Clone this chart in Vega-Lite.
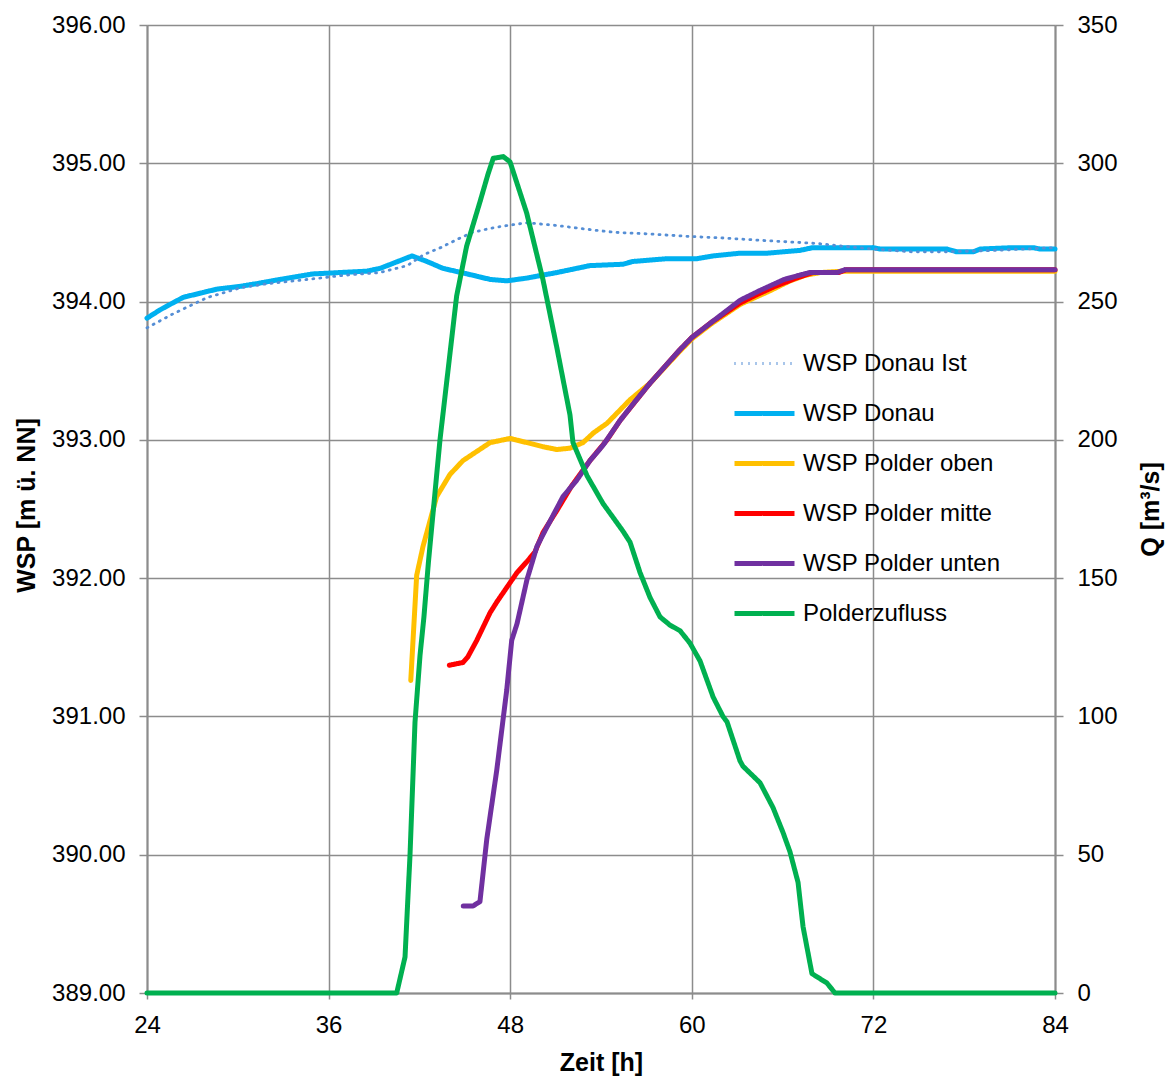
{
  "$schema": "https://vega.github.io/schema/vega-lite/v6.json",
  "width": 908,
  "height": 968,
  "autosize": {"type": "none"},
  "padding": {"left": 147, "top": 25, "right": 116, "bottom": 84},
  "background": "white",
  "config": {
    "font": "Liberation Sans",
    "view": {"stroke": null},
    "axis": {
      "gridColor": "#8c8c8c", "gridWidth": 1.5, "gridOpacity": 1,
      "domainColor": "#8c8c8c", "domainWidth": 2,
      "tickColor": "#8c8c8c", "tickWidth": 1.5,
      "labelFont": "Liberation Sans", "labelFontSize": 24, "labelColor": "#000000", "labelFlush": false,
      "titleFont": "Liberation Sans", "titleFontSize": 25, "titleFontWeight": "bold", "titleColor": "#000000"
    },
    "legend": {"labelLimit": 500}
  },
  "datasets": {
    "wsp": [
      {"s": "WSP Donau", "t": 24, "v": 393.88},
      {"s": "WSP Donau", "t": 24.86, "v": 393.94},
      {"s": "WSP Donau", "t": 26.38, "v": 394.03},
      {"s": "WSP Donau", "t": 27.5, "v": 394.06},
      {"s": "WSP Donau", "t": 28.63, "v": 394.09},
      {"s": "WSP Donau", "t": 30.15, "v": 394.11},
      {"s": "WSP Donau", "t": 31.27, "v": 394.13},
      {"s": "WSP Donau", "t": 32.79, "v": 394.16},
      {"s": "WSP Donau", "t": 34.97, "v": 394.2},
      {"s": "WSP Donau", "t": 36.75, "v": 394.21},
      {"s": "WSP Donau", "t": 38.54, "v": 394.22},
      {"s": "WSP Donau", "t": 39.4, "v": 394.24},
      {"s": "WSP Donau", "t": 41.51, "v": 394.33},
      {"s": "WSP Donau", "t": 42.5, "v": 394.29},
      {"s": "WSP Donau", "t": 43.56, "v": 394.24},
      {"s": "WSP Donau", "t": 45.15, "v": 394.2},
      {"s": "WSP Donau", "t": 46.67, "v": 394.16},
      {"s": "WSP Donau", "t": 47.79, "v": 394.15},
      {"s": "WSP Donau", "t": 49.11, "v": 394.17},
      {"s": "WSP Donau", "t": 51.09, "v": 394.21},
      {"s": "WSP Donau", "t": 53.27, "v": 394.26},
      {"s": "WSP Donau", "t": 55.45, "v": 394.27},
      {"s": "WSP Donau", "t": 56.1, "v": 394.29},
      {"s": "WSP Donau", "t": 58.36, "v": 394.31},
      {"s": "WSP Donau", "t": 60.34, "v": 394.31},
      {"s": "WSP Donau", "t": 61.4, "v": 394.33},
      {"s": "WSP Donau", "t": 63.2, "v": 394.35},
      {"s": "WSP Donau", "t": 64.97, "v": 394.35},
      {"s": "WSP Donau", "t": 67.15, "v": 394.37},
      {"s": "WSP Donau", "t": 68.0, "v": 394.39},
      {"s": "WSP Donau", "t": 71.97, "v": 394.39},
      {"s": "WSP Donau", "t": 72.44, "v": 394.38},
      {"s": "WSP Donau", "t": 76.86, "v": 394.38},
      {"s": "WSP Donau", "t": 77.5, "v": 394.36},
      {"s": "WSP Donau", "t": 78.6, "v": 394.36},
      {"s": "WSP Donau", "t": 79.05, "v": 394.38},
      {"s": "WSP Donau", "t": 81.23, "v": 394.39},
      {"s": "WSP Donau", "t": 82.55, "v": 394.39},
      {"s": "WSP Donau", "t": 83.0, "v": 394.38},
      {"s": "WSP Donau", "t": 84, "v": 394.38},

      {"s": "WSP Donau Ist", "t": 24, "v": 393.81},
      {"s": "WSP Donau Ist", "t": 25.7, "v": 393.91},
      {"s": "WSP Donau Ist", "t": 28, "v": 394.03},
      {"s": "WSP Donau Ist", "t": 30.2, "v": 394.1},
      {"s": "WSP Donau Ist", "t": 32, "v": 394.13},
      {"s": "WSP Donau Ist", "t": 34.6, "v": 394.16},
      {"s": "WSP Donau Ist", "t": 37, "v": 394.19},
      {"s": "WSP Donau Ist", "t": 39.4, "v": 394.21},
      {"s": "WSP Donau Ist", "t": 41.2, "v": 394.26},
      {"s": "WSP Donau Ist", "t": 42.3, "v": 394.34},
      {"s": "WSP Donau Ist", "t": 43.4, "v": 394.39},
      {"s": "WSP Donau Ist", "t": 44.5, "v": 394.45},
      {"s": "WSP Donau Ist", "t": 45.5, "v": 394.5},
      {"s": "WSP Donau Ist", "t": 46.7, "v": 394.53},
      {"s": "WSP Donau Ist", "t": 47.8, "v": 394.55},
      {"s": "WSP Donau Ist", "t": 49.1, "v": 394.57},
      {"s": "WSP Donau Ist", "t": 51.1, "v": 394.55},
      {"s": "WSP Donau Ist", "t": 53.3, "v": 394.52},
      {"s": "WSP Donau Ist", "t": 55, "v": 394.5},
      {"s": "WSP Donau Ist", "t": 57, "v": 394.49},
      {"s": "WSP Donau Ist", "t": 60, "v": 394.47},
      {"s": "WSP Donau Ist", "t": 62, "v": 394.46},
      {"s": "WSP Donau Ist", "t": 65, "v": 394.44},
      {"s": "WSP Donau Ist", "t": 68.3, "v": 394.42},
      {"s": "WSP Donau Ist", "t": 70, "v": 394.4},
      {"s": "WSP Donau Ist", "t": 72, "v": 394.38},
      {"s": "WSP Donau Ist", "t": 74.5, "v": 394.36},
      {"s": "WSP Donau Ist", "t": 77, "v": 394.36},
      {"s": "WSP Donau Ist", "t": 80, "v": 394.37},
      {"s": "WSP Donau Ist", "t": 82, "v": 394.38},
      {"s": "WSP Donau Ist", "t": 84, "v": 394.39},

      {"s": "WSP Polder oben", "t": 41.43, "v": 391.26},
      {"s": "WSP Polder oben", "t": 41.82, "v": 392.02},
      {"s": "WSP Polder oben", "t": 42.24, "v": 392.23},
      {"s": "WSP Polder oben", "t": 43.14, "v": 392.59},
      {"s": "WSP Polder oben", "t": 44.02, "v": 392.75},
      {"s": "WSP Polder oben", "t": 44.88, "v": 392.85},
      {"s": "WSP Polder oben", "t": 46.67, "v": 392.98},
      {"s": "WSP Polder oben", "t": 47.99, "v": 393.01},
      {"s": "WSP Polder oben", "t": 49.11, "v": 392.98},
      {"s": "WSP Polder oben", "t": 50.17, "v": 392.95},
      {"s": "WSP Polder oben", "t": 51.09, "v": 392.93},
      {"s": "WSP Polder oben", "t": 51.95, "v": 392.94},
      {"s": "WSP Polder oben", "t": 52.81, "v": 392.98},
      {"s": "WSP Polder oben", "t": 53.5, "v": 393.05},
      {"s": "WSP Polder oben", "t": 54.4, "v": 393.12},
      {"s": "WSP Polder oben", "t": 55.92, "v": 393.29},
      {"s": "WSP Polder oben", "t": 57.24, "v": 393.41},
      {"s": "WSP Polder oben", "t": 59.2, "v": 393.64},
      {"s": "WSP Polder oben", "t": 60, "v": 393.73},
      {"s": "WSP Polder oben", "t": 61.3, "v": 393.84},
      {"s": "WSP Polder oben", "t": 63.2, "v": 393.98},
      {"s": "WSP Polder oben", "t": 64, "v": 394.02},
      {"s": "WSP Polder oben", "t": 65.2, "v": 394.08},
      {"s": "WSP Polder oben", "t": 66.5, "v": 394.15},
      {"s": "WSP Polder oben", "t": 67.5, "v": 394.19},
      {"s": "WSP Polder oben", "t": 68.5, "v": 394.21},
      {"s": "WSP Polder oben", "t": 70, "v": 394.22},
      {"s": "WSP Polder oben", "t": 84, "v": 394.22},

      {"s": "WSP Polder mitte", "t": 43.98, "v": 391.37},
      {"s": "WSP Polder mitte", "t": 44.88, "v": 391.39},
      {"s": "WSP Polder mitte", "t": 45.2, "v": 391.43},
      {"s": "WSP Polder mitte", "t": 45.79, "v": 391.55},
      {"s": "WSP Polder mitte", "t": 46.67, "v": 391.75},
      {"s": "WSP Polder mitte", "t": 47.13, "v": 391.83},
      {"s": "WSP Polder mitte", "t": 48.45, "v": 392.04},
      {"s": "WSP Polder mitte", "t": 49.11, "v": 392.12},
      {"s": "WSP Polder mitte", "t": 49.64, "v": 392.19},
      {"s": "WSP Polder mitte", "t": 50.17, "v": 392.33},
      {"s": "WSP Polder mitte", "t": 51.09, "v": 392.49},
      {"s": "WSP Polder mitte", "t": 52.08, "v": 392.67},
      {"s": "WSP Polder mitte", "t": 53.27, "v": 392.85},
      {"s": "WSP Polder mitte", "t": 54.4, "v": 393.0},
      {"s": "WSP Polder mitte", "t": 55.26, "v": 393.14},
      {"s": "WSP Polder mitte", "t": 57.24, "v": 393.41},
      {"s": "WSP Polder mitte", "t": 59.2, "v": 393.65},
      {"s": "WSP Polder mitte", "t": 60, "v": 393.74},
      {"s": "WSP Polder mitte", "t": 61.3, "v": 393.85},
      {"s": "WSP Polder mitte", "t": 63.2, "v": 393.99},
      {"s": "WSP Polder mitte", "t": 64.3, "v": 394.05},
      {"s": "WSP Polder mitte", "t": 65.5, "v": 394.11},
      {"s": "WSP Polder mitte", "t": 66.9, "v": 394.17},
      {"s": "WSP Polder mitte", "t": 68.0, "v": 394.21},
      {"s": "WSP Polder mitte", "t": 69.7, "v": 394.21},
      {"s": "WSP Polder mitte", "t": 70.2, "v": 394.23},
      {"s": "WSP Polder mitte", "t": 84, "v": 394.23},

      {"s": "WSP Polder unten", "t": 44.9, "v": 389.63},
      {"s": "WSP Polder unten", "t": 45.55, "v": 389.63},
      {"s": "WSP Polder unten", "t": 46.0, "v": 389.66},
      {"s": "WSP Polder unten", "t": 46.45, "v": 390.11},
      {"s": "WSP Polder unten", "t": 47.11, "v": 390.61},
      {"s": "WSP Polder unten", "t": 47.77, "v": 391.19},
      {"s": "WSP Polder unten", "t": 48.1, "v": 391.55},
      {"s": "WSP Polder unten", "t": 48.45, "v": 391.67},
      {"s": "WSP Polder unten", "t": 49.11, "v": 391.99},
      {"s": "WSP Polder unten", "t": 49.77, "v": 392.23},
      {"s": "WSP Polder unten", "t": 50.43, "v": 392.37},
      {"s": "WSP Polder unten", "t": 51.49, "v": 392.59},
      {"s": "WSP Polder unten", "t": 52.41, "v": 392.71},
      {"s": "WSP Polder unten", "t": 53.27, "v": 392.85},
      {"s": "WSP Polder unten", "t": 54.13, "v": 392.96},
      {"s": "WSP Polder unten", "t": 55.26, "v": 393.14},
      {"s": "WSP Polder unten", "t": 56.2, "v": 393.27},
      {"s": "WSP Polder unten", "t": 57.24, "v": 393.41},
      {"s": "WSP Polder unten", "t": 59.2, "v": 393.65},
      {"s": "WSP Polder unten", "t": 60, "v": 393.74},
      {"s": "WSP Polder unten", "t": 61.3, "v": 393.85},
      {"s": "WSP Polder unten", "t": 63.2, "v": 394.01},
      {"s": "WSP Polder unten", "t": 64.5, "v": 394.08},
      {"s": "WSP Polder unten", "t": 66.1, "v": 394.16},
      {"s": "WSP Polder unten", "t": 67.8, "v": 394.21},
      {"s": "WSP Polder unten", "t": 69.6, "v": 394.21},
      {"s": "WSP Polder unten", "t": 70.1, "v": 394.23},
      {"s": "WSP Polder unten", "t": 84, "v": 394.23}
    ],
    "q": [
      {"s": "Polderzufluss", "t": 24, "q": 0},
      {"s": "Polderzufluss", "t": 40.5, "q": 0},
      {"s": "Polderzufluss", "t": 41.05, "q": 13},
      {"s": "Polderzufluss", "t": 41.38, "q": 50},
      {"s": "Polderzufluss", "t": 41.71, "q": 98},
      {"s": "Polderzufluss", "t": 42.04, "q": 122},
      {"s": "Polderzufluss", "t": 42.3, "q": 136},
      {"s": "Polderzufluss", "t": 42.6, "q": 156},
      {"s": "Polderzufluss", "t": 43.36, "q": 200},
      {"s": "Polderzufluss", "t": 44.46, "q": 252},
      {"s": "Polderzufluss", "t": 45.12, "q": 270},
      {"s": "Polderzufluss", "t": 46.0, "q": 286},
      {"s": "Polderzufluss", "t": 46.53, "q": 296},
      {"s": "Polderzufluss", "t": 46.88, "q": 301.8},
      {"s": "Polderzufluss", "t": 47.55, "q": 302.4},
      {"s": "Polderzufluss", "t": 47.99, "q": 300.5},
      {"s": "Polderzufluss", "t": 49.09, "q": 282},
      {"s": "Polderzufluss", "t": 50.17, "q": 257.8},
      {"s": "Polderzufluss", "t": 51.07, "q": 233.7},
      {"s": "Polderzufluss", "t": 51.95, "q": 209},
      {"s": "Polderzufluss", "t": 52.15, "q": 199},
      {"s": "Polderzufluss", "t": 53.08, "q": 187},
      {"s": "Polderzufluss", "t": 54.13, "q": 177},
      {"s": "Polderzufluss", "t": 54.79, "q": 172},
      {"s": "Polderzufluss", "t": 55.45, "q": 167},
      {"s": "Polderzufluss", "t": 55.92, "q": 163},
      {"s": "Polderzufluss", "t": 56.58, "q": 152},
      {"s": "Polderzufluss", "t": 57.24, "q": 143},
      {"s": "Polderzufluss", "t": 57.9, "q": 136},
      {"s": "Polderzufluss", "t": 58.56, "q": 133},
      {"s": "Polderzufluss", "t": 59.22, "q": 131},
      {"s": "Polderzufluss", "t": 59.88, "q": 126.5},
      {"s": "Polderzufluss", "t": 60.55, "q": 120},
      {"s": "Polderzufluss", "t": 61.41, "q": 107},
      {"s": "Polderzufluss", "t": 62.06, "q": 100},
      {"s": "Polderzufluss", "t": 62.33, "q": 98},
      {"s": "Polderzufluss", "t": 63.18, "q": 84},
      {"s": "Polderzufluss", "t": 63.38, "q": 82},
      {"s": "Polderzufluss", "t": 64.51, "q": 76},
      {"s": "Polderzufluss", "t": 65.37, "q": 67},
      {"s": "Polderzufluss", "t": 66.03, "q": 58},
      {"s": "Polderzufluss", "t": 66.49, "q": 51},
      {"s": "Polderzufluss", "t": 67.02, "q": 40},
      {"s": "Polderzufluss", "t": 67.35, "q": 24},
      {"s": "Polderzufluss", "t": 67.94, "q": 7},
      {"s": "Polderzufluss", "t": 68.93, "q": 3.6},
      {"s": "Polderzufluss", "t": 69.46, "q": 0},
      {"s": "Polderzufluss", "t": 84, "q": 0}
    ]
  },
  "layer": [
    {
      "data": {"name": "wsp"},
      "mark": {"type": "line", "strokeCap": "round", "strokeJoin": "round"},
      "encoding": {
        "x": {"field": "t", "type": "quantitative",
              "scale": {"domain": [24, 84], "nice": false, "zero": false},
              "axis": {"values": [24, 36, 48, 60, 72, 84], "title": "Zeit [h]", "grid": true, "tickSize": 6, "labelPadding": 14, "titleX": 454, "titleY": 69, "titleBaseline": "middle"}},
        "y": {"field": "v", "type": "quantitative",
              "scale": {"domain": [389, 396], "nice": false, "zero": false},
              "axis": {"values": [389, 390, 391, 392, 393, 394, 395, 396], "format": ".2f", "title": "WSP [m ü. NN]", "grid": true, "tickSize": 8, "labelPadding": 14, "titleX": -121, "titleY": 480, "titleAngle": 270, "titleAlign": "center", "titleBaseline": "middle"}},
        "color": {"field": "s", "type": "nominal",
                  "scale": {"domain": ["WSP Donau Ist", "WSP Donau", "WSP Polder oben", "WSP Polder mitte", "WSP Polder unten", "Polderzufluss"],
                            "range": ["#558ed5", "#00b0f0", "#ffc000", "#ff0000", "#7030a0", "#00b050"]},
                  "legend": {"orient": "none", "legendX": 585, "legendY": 307, "title": null, "symbolType": "stroke", "symbolSize": 3600, "labelFontSize": 24, "labelFont": "Liberation Sans", "labelColor": "#000000", "labelOffset": 6, "rowPadding": 5, "labelLimit": 500}},
        "strokeDash": {"field": "s", "type": "nominal",
                  "scale": {"domain": ["WSP Donau Ist", "WSP Donau", "WSP Polder oben", "WSP Polder mitte", "WSP Polder unten", "Polderzufluss"],
                            "range": [[1, 6], [1, 0], [1, 0], [1, 0], [1, 0], [1, 0]]},
                  "legend": {"orient": "none", "legendX": 585, "legendY": 307, "title": null, "symbolType": "stroke", "symbolSize": 3600, "labelFontSize": 24, "labelFont": "Liberation Sans", "labelColor": "#000000", "labelOffset": 6, "rowPadding": 5, "labelLimit": 500}},
        "strokeWidth": {"field": "s", "type": "nominal",
                  "scale": {"type": "ordinal", "domain": ["WSP Donau Ist", "WSP Donau", "WSP Polder oben", "WSP Polder mitte", "WSP Polder unten", "Polderzufluss"],
                            "range": [2.8, 5, 5, 5, 5, 5]},
                  "legend": {"orient": "none", "legendX": 585, "legendY": 307, "title": null, "symbolType": "stroke", "symbolSize": 3600, "labelFontSize": 24, "labelFont": "Liberation Sans", "labelColor": "#000000", "labelOffset": 6, "rowPadding": 5, "labelLimit": 500}}
      }
    },
    {
      "data": {"name": "q"},
      "mark": {"type": "line", "strokeCap": "round", "strokeJoin": "round"},
      "encoding": {
        "x": {"field": "t", "type": "quantitative",
              "scale": {"domain": [24, 84], "nice": false, "zero": false},
              "axis": {"values": [24, 36, 48, 60, 72, 84], "title": "Zeit [h]", "grid": true, "tickSize": 6, "labelPadding": 14, "titleX": 454, "titleY": 69, "titleBaseline": "middle"}},
        "y": {"field": "q", "type": "quantitative",
              "scale": {"domain": [0, 350], "nice": false},
              "axis": {"orient": "right", "values": [0, 50, 100, 150, 200, 250, 300, 350], "format": "d", "title": "Q [m³/s]", "grid": false, "tickSize": 8, "labelPadding": 14, "titleX": 95, "titleY": 484, "titleAngle": 270, "titleAlign": "center", "titleBaseline": "middle"}},
        "color": {"field": "s", "type": "nominal",
                  "scale": {"domain": ["WSP Donau Ist", "WSP Donau", "WSP Polder oben", "WSP Polder mitte", "WSP Polder unten", "Polderzufluss"],
                            "range": ["#558ed5", "#00b0f0", "#ffc000", "#ff0000", "#7030a0", "#00b050"]}},
        "strokeDash": {"field": "s", "type": "nominal",
                  "scale": {"domain": ["WSP Donau Ist", "WSP Donau", "WSP Polder oben", "WSP Polder mitte", "WSP Polder unten", "Polderzufluss"],
                            "range": [[1, 6], [1, 0], [1, 0], [1, 0], [1, 0], [1, 0]]}},
        "strokeWidth": {"field": "s", "type": "nominal",
                  "scale": {"type": "ordinal", "domain": ["WSP Donau Ist", "WSP Donau", "WSP Polder oben", "WSP Polder mitte", "WSP Polder unten", "Polderzufluss"],
                            "range": [2.8, 5, 5, 5, 5, 5]}}
      }
    }
  ],
  "resolve": {"scale": {"y": "independent"}}
}
